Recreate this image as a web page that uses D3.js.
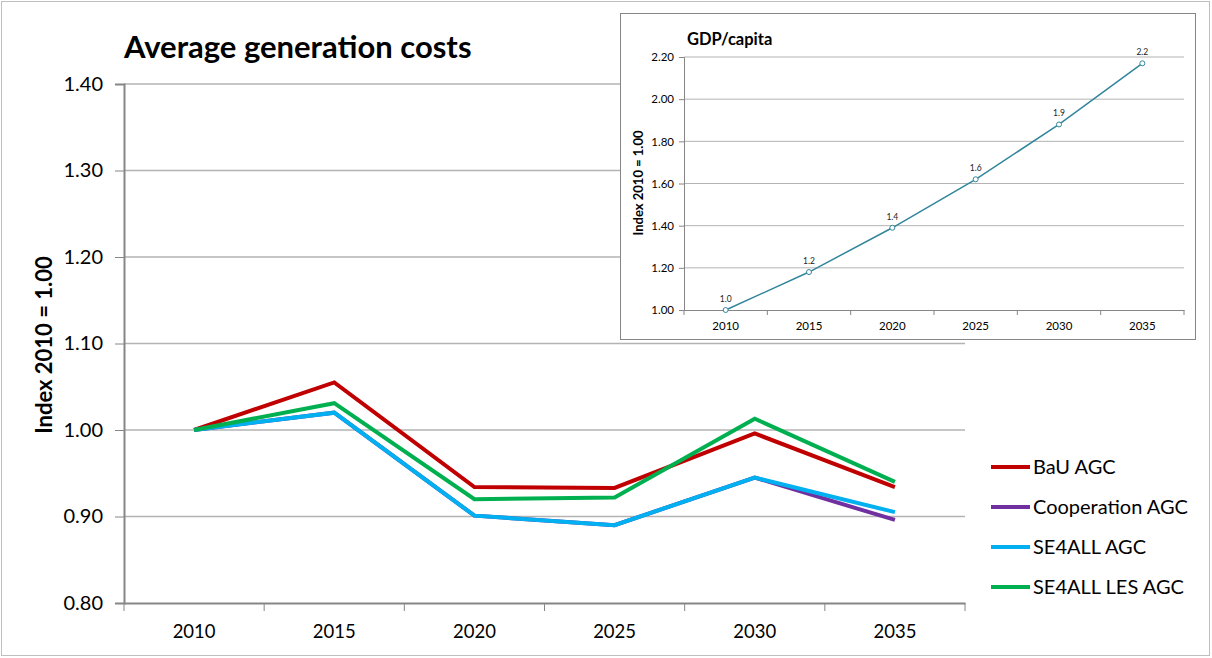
<!DOCTYPE html>
<html><head><meta charset="utf-8">
<script src="https://cdn.jsdelivr.net/npm/d3@7"></script>
<style>body{margin:0;background:#fff}svg{display:block}text{font-family:Lato,"Open Sans",sans-serif}</style>
</head><body><svg id="c" width="1212" height="658"></svg>
<script>
const years = ["2010","2015","2020","2025","2030","2035"];
const seriesNames = ["BaU AGC","Cooperation AGC","SE4ALL AGC","SE4ALL LES AGC"];
const seriesColors = ["#C00000","#7030A0","#00B0F0","#00B050"];
const bau = [1.000,1.055,0.934,0.933,0.996,0.934];
const cooperation = [1.000,1.020,0.901,0.890,0.945,0.896];
const se4all = [1.000,1.020,0.901,0.890,0.945,0.905];
const se4allLes = [1.000,1.031,0.920,0.922,1.013,0.940];
const mainTicks = [0.80,0.90,1.00,1.10,1.20,1.30,1.40];
const gdp = [1.00,1.18,1.39,1.62,1.88,2.17];
const gdpLabels = ["1.0","1.2","1.4","1.6","1.9","2.2"];
const gdpTicks = [1.00,1.20,1.40,1.60,1.80,2.00,2.20];
const allSeries = [bau,cooperation,se4all,se4allLes];

const svg = d3.select("#c");
svg.append("rect").attr("x",1.5).attr("y",1.5).attr("width",1208).attr("height",654)
  .attr("fill","#fff").attr("stroke","#bfbfbf");

// main chart
const x = d3.scaleBand().domain(years).range([124,965]);
const y = d3.scaleLinear().domain([0.8,1.4]).range([603,84]);
const g = svg.append("g");
g.append("g").selectAll("line").data(mainTicks.slice(1)).join("line")
  .attr("x1",124).attr("x2",965).attr("y1",d=>y(d)).attr("y2",d=>y(d))
  .attr("stroke","#b3b3b3").attr("stroke-width",1.5);
const ya = g.append("g").attr("transform","translate(124,0)")
  .call(d3.axisLeft(y).tickValues(mainTicks).tickFormat(d3.format(".2f")).tickSize(9).tickPadding(12));
ya.select(".domain").attr("stroke","#868686").attr("stroke-width",2);
ya.selectAll(".tick line").attr("stroke","#868686");
ya.selectAll("text").attr("font-size",20).attr("fill","#000").style("font-family","Lato");
const xa = g.append("g").attr("transform","translate(0,603)")
  .call(d3.axisBottom(x).tickSize(0).tickPadding(22));
xa.select(".domain").attr("stroke","#868686").attr("stroke-width",2);
xa.selectAll("text").attr("font-size",18.5).attr("fill","#000").style("font-family","Lato");
const bounds = x.domain().map(d=>x(d)).concat([x.range()[1]]);
g.append("g").selectAll("line").data(bounds).join("line")
  .attr("x1",d=>d).attr("x2",d=>d).attr("y1",603).attr("y2",611).attr("stroke","#868686");
g.append("text").attr("transform","translate(52,345) rotate(-90)").attr("text-anchor","middle")
  .attr("font-size",22).attr("font-weight","bold").text("Index 2010 = 1.00");
g.append("text").attr("x",124).attr("y",58).attr("font-size",31).attr("font-weight","bold")
  .text("Average generation costs");

const line = d3.line().x((d,i)=>x(years[i])+x.bandwidth()/2).y(d=>y(d));
allSeries.forEach((s,k)=>{
  g.append("path").datum(s).attr("d",line).attr("fill","none")
    .attr("stroke",seriesColors[k]).attr("stroke-width",4).attr("stroke-linejoin","miter");
});

// legend
const lg = g.append("g");
seriesNames.forEach((n,k)=>{
  const yy = 467 + k*40;
  lg.append("line").attr("x1",991).attr("x2",1030).attr("y1",yy).attr("y2",yy)
    .attr("stroke",seriesColors[k]).attr("stroke-width",4);
  lg.append("text").attr("x",1033).attr("y",yy+7).attr("font-size",20).text(n);
});

// inset
const ig = svg.append("g");
ig.append("rect").attr("x",620.5).attr("y",13.5).attr("width",575).attr("height",326)
  .attr("fill","#fff").attr("stroke","#868686");
const xi = d3.scaleBand().domain(years).range([684,1184]);
const yi = d3.scaleLinear().domain([1.0,2.2]).range([310,57]);
ig.append("g").selectAll("line").data(gdpTicks.slice(1)).join("line")
  .attr("x1",684).attr("x2",1184).attr("y1",d=>yi(d)).attr("y2",d=>yi(d))
  .attr("stroke","#b3b3b3").attr("stroke-width",1);
const yia = ig.append("g").attr("transform","translate(684,0)")
  .call(d3.axisLeft(yi).tickValues(gdpTicks).tickFormat(d3.format(".2f")).tickSize(5).tickPadding(5));
yia.select(".domain").attr("stroke","#868686");
yia.selectAll(".tick line").attr("stroke","#868686");
yia.selectAll("text").attr("font-size",11.5).attr("fill","#000").style("font-family","Lato");
const xia = ig.append("g").attr("transform","translate(0,310)")
  .call(d3.axisBottom(xi).tickSize(0).tickPadding(12));
xia.select(".domain").attr("stroke","#868686");
xia.selectAll("text").attr("font-size",11.5).attr("fill","#000").style("font-family","Lato");
const ib = xi.domain().map(d=>xi(d)).concat([xi.range()[1]]);
ig.append("g").selectAll("line").data(ib).join("line")
  .attr("x1",d=>d).attr("x2",d=>d).attr("y1",310).attr("y2",315).attr("stroke","#868686");
ig.append("text").attr("x",687).attr("y",45).attr("font-size",16.5).attr("font-weight","bold").text("GDP/capita");
ig.append("text").attr("transform","translate(643,183) rotate(-90)").attr("text-anchor","middle")
  .attr("font-size",13).attr("font-weight","bold").text("Index 2010 = 1.00");
const li = d3.line().x((d,i)=>xi(years[i])+xi.bandwidth()/2).y(d=>yi(d));
ig.append("path").datum(gdp).attr("d",li).attr("fill","none").attr("stroke","#31859C").attr("stroke-width",1.5);
ig.append("g").selectAll("circle").data(gdp).join("circle")
  .attr("cx",(d,i)=>xi(years[i])+xi.bandwidth()/2).attr("cy",d=>yi(d)).attr("r",2.5)
  .attr("fill","#fff").attr("stroke","#31859C").attr("stroke-width",1);
ig.append("g").selectAll("text").data(gdp).join("text")
  .attr("x",(d,i)=>xi(years[i])+xi.bandwidth()/2).attr("y",d=>yi(d)-8)
  .attr("text-anchor","middle").attr("font-size",8.5).attr("fill","#222").text((d,i)=>gdpLabels[i]);
</script></body></html>
